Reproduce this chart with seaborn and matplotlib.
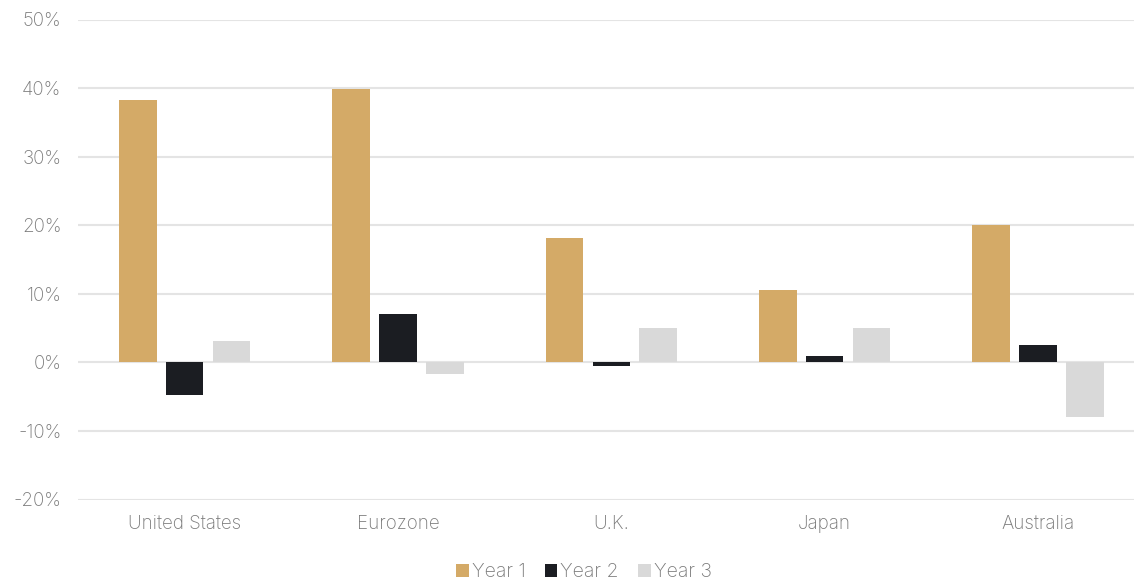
import matplotlib
matplotlib.use("Agg")
import matplotlib.pyplot as plt
import seaborn as sns
import pandas as pd
from matplotlib.ticker import FuncFormatter

regions = ["United States", "Eurozone", "U.K.", "Japan", "Australia"]
series_names = ["Year 1", "Year 2", "Year 3"]
year1 = [38.2, 39.8, 18.2, 10.5, 20.1]
year2 = [-4.8, 7.1, -0.5, 1.0, 2.6]
year3 = [3.1, -1.7, 5.0, 5.0, -8.0]
y_ticks = [-20, -10, 0, 10, 20, 30, 40, 50]

colors = ["#D4AA67", "#1B1D22", "#D9D9D9"]
text_color = "#7A7A7A"

df = pd.DataFrame({
    "region": regions * 3,
    "value": year1 + year2 + year3,
    "series": [s for s in series_names for _ in regions],
})

sns.set_theme(style="white")
plt.rcParams["font.family"] = ["Inter", "DejaVu Sans"]
plt.rcParams["font.weight"] = "light"

fig = plt.figure(figsize=(11.34, 5.85), dpi=100)
ax = fig.add_axes([78 / 1134, 85.5 / 585, 1 - 78 / 1134, 480 / 585])

sns.barplot(data=df, x="region", y="value", hue="series", order=regions,
            hue_order=series_names, palette=colors, width=0.66, gap=0.2,
            ax=ax, saturation=1, legend=True, linewidth=0)

ax.set_ylim(-20, 50)
ax.set_xlim(-0.5, 4.45)
ax.set_yticks(y_ticks)
ax.yaxis.set_major_formatter(FuncFormatter(lambda v, p: f"{int(v)}%"))
ax.grid(axis="y", color="#E4E4E4", linewidth=1.5, zorder=0)
ax.set_axisbelow(True)
for s in ax.spines.values():
    s.set_visible(False)
ax.set_xlabel("")
ax.set_ylabel("")
ax.tick_params(axis="y", length=0, pad=12, labelsize=13.5, labelcolor=text_color)
ax.tick_params(axis="x", length=0, pad=11, labelsize=13.5, labelcolor=text_color)
for lbl in ax.get_yticklabels():
    lbl.set_horizontalalignment("right")

handles, labels = ax.get_legend_handles_labels()
ax.legend_.remove()
fig.legend(handles, labels, loc="center", bbox_to_anchor=(584 / 1134, 1 - 572 / 585),
           ncol=3, frameon=False, fontsize=14, labelcolor=text_color,
           handlelength=0.65, handleheight=0.65, handletextpad=0.15, columnspacing=1.0)

fig.savefig("out.png", dpi=100, facecolor="white")
